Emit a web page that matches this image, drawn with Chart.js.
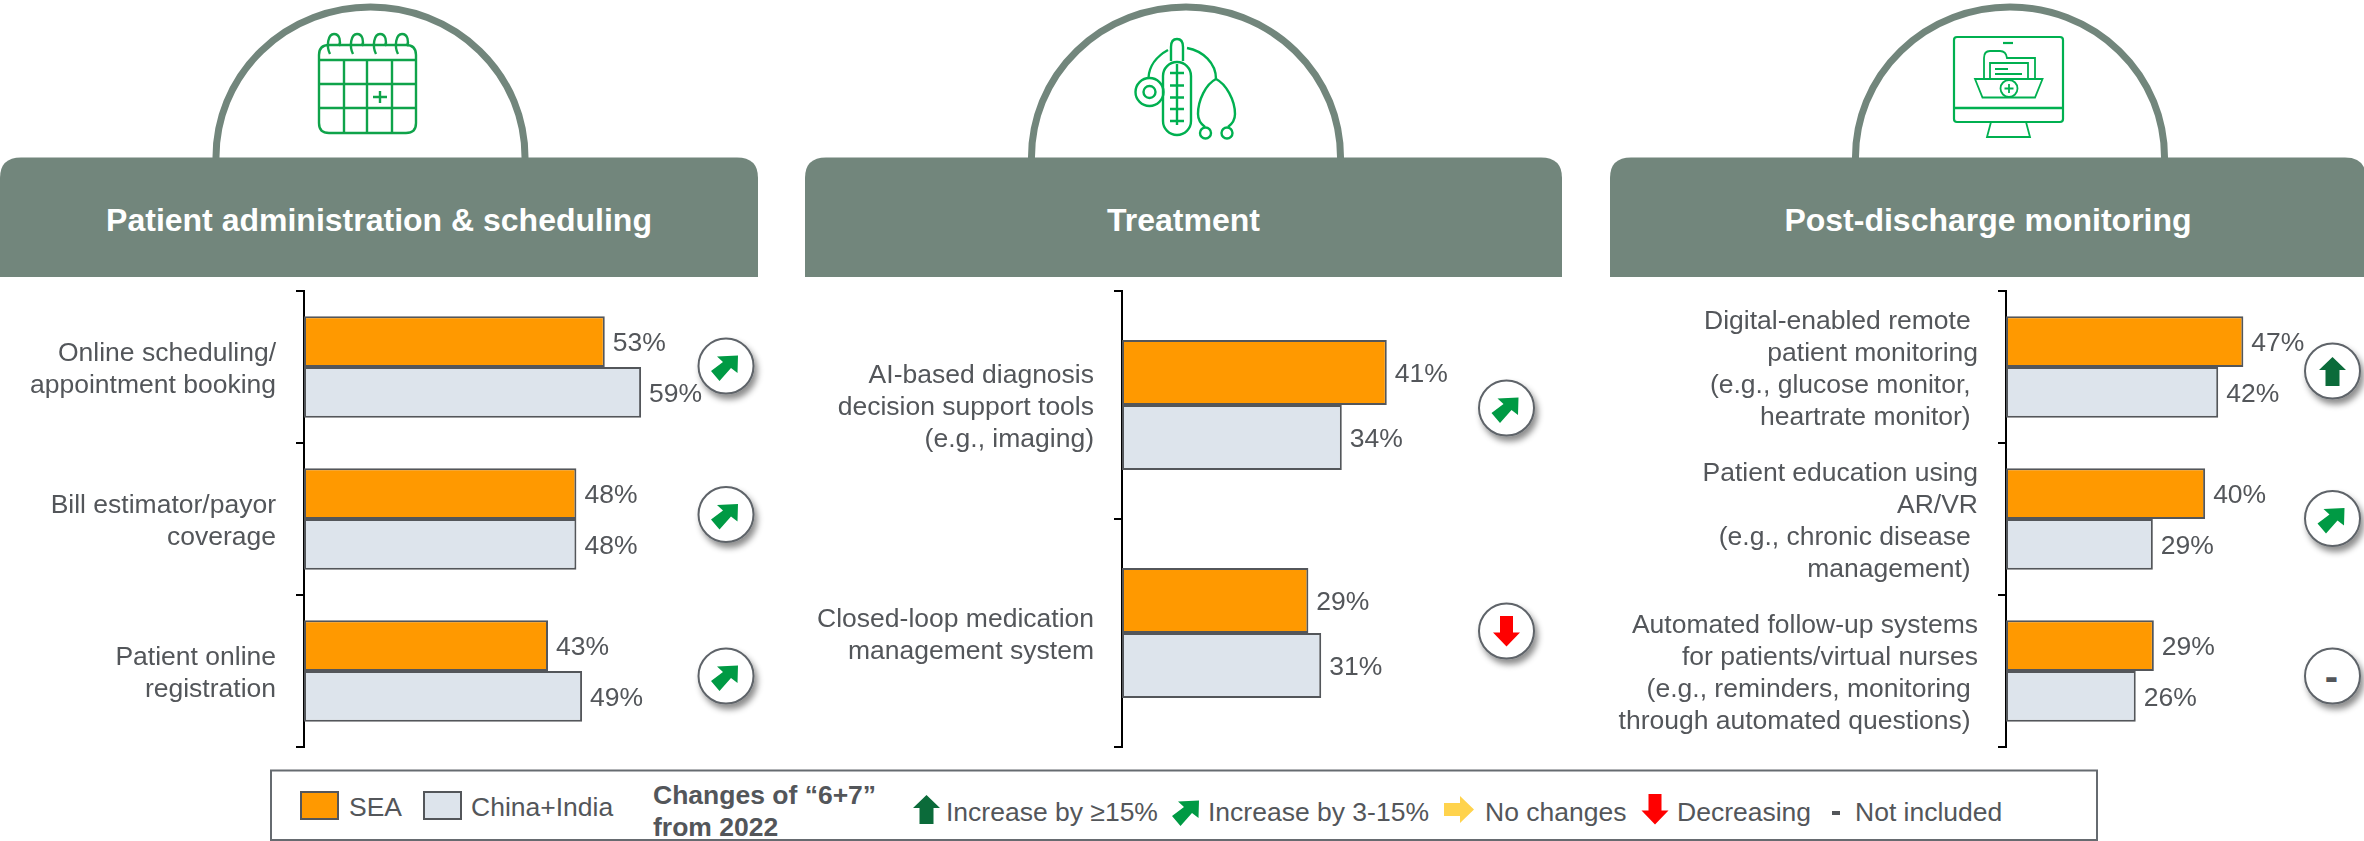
<!DOCTYPE html>
<html><head><meta charset="utf-8">
<script src="https://cdn.jsdelivr.net/npm/chart.js@4"></script>
<style>
html,body{margin:0;padding:0;background:#fff;width:2364px;height:841px;overflow:hidden}
#wrap{position:relative;width:2364px;height:841px;font-family:"Liberation Sans",Arial,sans-serif}
svg{position:absolute;left:0;top:0}
canvas{position:absolute}
text{font-family:"Liberation Sans",Arial,sans-serif}
</style></head><body>
<div id="wrap">
<svg id="deco" width="2364" height="841" viewBox="0 0 2364 841" xmlns="http://www.w3.org/2000/svg"></svg>
<canvas id="c1"></canvas><canvas id="c2"></canvas><canvas id="c3"></canvas>
</div>
<script>
// ---- data (bar lengths estimated to a tenth; labels show whole percents) ----
const seriesNames = ["SEA", "China+India"];
const panelTitles = ["Patient administration & scheduling", "Treatment", "Post-discharge monitoring"];

const categories1 = [["Online scheduling/","appointment booking"],["Bill estimator/payor","coverage"],["Patient online","registration"]];
const sea1 = [53, 48, 43];
const chinaIndia1 = [59.4, 48, 49];
const trend1 = ["diag", "diag", "diag"];

const categories2 = [["AI-based diagnosis","decision support tools","(e.g., imaging)"],["Closed-loop medication","management system"]];
const sea2 = [41.2, 29];
const chinaIndia2 = [34.2, 31];
const trend2 = ["diag", "down"];

const categories3 = [["Digital-enabled remote ","patient monitoring","(e.g., glucose monitor, ","heartrate monitor) "],["Patient education using","AR/VR","(e.g., chronic disease ","management) "],["Automated follow-up systems","for patients/virtual nurses","(e.g., reminders, monitoring ","through automated questions) "]];
const sea3 = [47.2, 39.6, 29.4];
const chinaIndia3 = [42.2, 29.2, 25.8];
const trend3 = ["up", "diag", "none"];

const legendTrendLabels = ["Increase by ≥15%", "Increase by 3-15%", "No changes", "Decreasing", "Not included"];
const legendHeading = ["Changes of “6+7”", "from 2022"];

// ---- style ----
const ORANGE="#FF9900", GREYBAR="#DDE4EC", EDGE="#53565A", TEXT="#53565A", HEAD="#72867C", FS=26.5;

const labelPlugin={id:"valueLabels",afterDatasetsDraw(chart){
  const c=chart.ctx;c.save();c.font=FS+'px "Liberation Sans"';c.fillStyle=TEXT;c.textAlign="left";c.textBaseline="middle";
  chart.data.datasets.forEach((d,i)=>{chart.getDatasetMeta(i).data.forEach((el,j)=>{
    c.fillText(Math.round(d.data[j])+"%",el.x+8,el.y+2);
  });});
  c.restore();
}};

function makeChart(id,left,axisX,xMax,pxPerPct,categories,sea,china,catPct){
  const plotW=Math.round(xMax*pxPerPct);
  const W=axisX-left+plotW, top=281, H=476;
  const cv=document.getElementById(id);
  cv.style.left=left+"px";cv.style.top=top+"px";
  cv.width=W;cv.height=H;
  new Chart(cv,{type:"bar",plugins:[labelPlugin],
    data:{labels:categories,datasets:[
      {label:seriesNames[0],data:sea,backgroundColor:ORANGE,borderColor:EDGE,borderWidth:2,borderSkipped:false},
      {label:seriesNames[1],data:china,backgroundColor:GREYBAR,borderColor:EDGE,borderWidth:2,borderSkipped:false}]},
    options:{indexAxis:"y",responsive:false,animation:false,devicePixelRatio:1,
      layout:{padding:{top:10,bottom:10,left:0,right:0}},
      datasets:{bar:{barPercentage:1,categoryPercentage:catPct}},
      plugins:{legend:{display:false},title:{display:false},tooltip:{enabled:false}},
      scales:{
        x:{display:false,min:0,max:xMax},
        y:{offset:true,
          afterFit(s){s.width=axisX-left;s.paddingTop=0;s.paddingBottom=0;},
          border:{display:true,color:"#000",width:2},
          grid:{offset:true,drawOnChartArea:false,drawTicks:true,tickLength:8,color:"#000",lineWidth:2},
          ticks:{autoSkip:false,padding:20,labelOffset:3,color:TEXT,font:{family:'"Liberation Sans"',size:FS,lineHeight:32/FS}}
        }}}});
}
makeChart("c1",0,304,80,5.67,categories1,sea1,chinaIndia1,0.667);
makeChart("c2",800,1122,68,6.43,categories2,sea2,chinaIndia2,0.57);
makeChart("c3",1610,2006,70,5.03,categories3,sea3,chinaIndia3,0.667);

// ---- decoration: headers, arches, icons, badges, legend ----
const GREEN_D="#0B6B3A",GREEN="#009A44",RED="#FF0000",YEL="#FFD34D";
const P={
 diag:{pts:"-9,-9.5 12,-10.5 11.5,7 5,2 -6.5,15 -15,5 -3,-4",fill:GREEN},
 up:{pts:"0,-14 13.5,-1 7,-1 7,15 -7,15 -7,-1 -13.5,-1",fill:GREEN_D},
 down:{pts:"0,15.5 13.5,1.5 6.5,1.5 6.5,-15 -6.5,-15 -6.5,1.5 -13.5,1.5",fill:RED},
 right:{pts:"15,0 1,-13.5 1,-6.5 -15,-6.5 -15,6.5 1,6.5 1,13.5",fill:YEL}
};
let s=`<defs><filter id="sh" x="-40%" y="-40%" width="190%" height="190%"><feDropShadow dx="3" dy="5" stdDeviation="3" flood-color="#000" flood-opacity="0.45"/></filter></defs>`;
function head(x0,x1,cx,r,title){
  s+=`<path d="M${cx-r+3.5} 160 L${cx-r+3.5} 157 A${r-3.5} ${150} 0 0 1 ${cx+r-3.5} 157 L${cx+r-3.5} 160" fill="#fff" stroke="${HEAD}" stroke-width="7"/>`;
  s+=`<path d="M${x0} 277 L${x0} 178 Q${x0} 157.5 ${x0+21} 157.5 L${x1-21} 157.5 Q${x1} 157.5 ${x1} 178 L${x1} 277 Z" fill="${HEAD}"/>`;
  s+=`<text x="${(x0+x1)/2}" y="231" text-anchor="middle" font-size="32" font-weight="700" fill="#fff">${title.replace("&","&amp;")}</text>`;
}
head(0,758,370.5,158,panelTitles[0]);
head(805,1562,1186,158,panelTitles[1]);
head(1610,2366,2010,158,panelTitles[2]);

// calendar icon
const G1="#0FA34A";
s+=`<g fill="none" stroke="${G1}" stroke-width="2.4">`+
`<path d="M319 60 L319 55 Q319 45 329 45 L406 45 Q416 45 416 55 L416 123 Q416 133 406 133 L329 133 Q319 133 319 123 Z"/>`+
`<path d="M319 60H416M319 84H416M319 108H416M344 60V133M367 60V133M392 60V133"/>`+
`<path d="M380 91V103M373 97H387"/>`;
[334,357,380,402].forEach(x=>{s+=`<path d="M${x-4} 54 C${x-8} 46 ${x-6} 34 ${x} 34 C${x+6} 34 ${x+7} 42 ${x+5} 46"/>`;});
s+=`</g>`;
// stethoscope + thermometer icon
const G2="#00B050";
s+=`<g fill="none" stroke="${G2}" stroke-width="2.4">`+
`<rect x="1163" y="62" width="28" height="73" rx="14"/>`+
`<path d="M1171 61V47Q1171 39 1177 39Q1183 39 1183 47V61"/>`+
`<path d="M1177 64V125M1170 73H1184M1170 85.500H1184M1170 97.500H1184M1170 109H1184M1170 121H1184"/>`+
`<path d="M1168 50C1157 56 1149 66 1148.500 78"/>`+
`<path d="M1187 48C1203 51 1216 63 1216 79"/>`+
`<circle cx="1149.500" cy="92" r="14"/><circle cx="1149.500" cy="92" r="6"/>`+
`<path d="M1216 79C1206 84 1198 100 1198 114C1198 120 1201 124 1205 127"/>`+
`<path d="M1216 79C1226 84 1235 100 1235 114C1235 120 1232 124 1228 127"/>`+
`<circle cx="1205.500" cy="133" r="5.500"/><circle cx="1227" cy="133" r="5.500"/></g>`;
// monitor + folder icon
s+=`<g fill="none" stroke="${G2}" stroke-width="1.8">`+
`<rect x="1954" y="37" width="109" height="85" rx="3" stroke-width="2.2"/>`+
`<path d="M1954 108H2063" stroke-width="2.6"/><path d="M2003 43H2013" stroke-width="2.2"/>`+
`<path d="M1991 122L1987 137H2030L2026 122"/>`+
`<path d="M1984 79V58Q1984 51 1990 51H2000Q2006 51 2007 58H2035V79"/>`+
`<path d="M1990 79V63H2028V79M1995 69H2008M1995 74H2022"/>`+
`<path d="M1975 79H2042.500L2035 97.500H1982.500Z"/>`+
`<circle cx="2009" cy="88.500" r="8.500"/><path d="M2009 84V93M2004.500 88.500H2013.500"/></g>`;

// badges
function badge(cx,cy,kind){
  s+=`<circle cx="${cx}" cy="${cy}" r="27.500" fill="#fff" stroke="#5E6469" stroke-width="2" filter="url(#sh)"/>`;
  if(kind==="none"){s+=`<text x="${cx-1}" y="${cy+14}" text-anchor="middle" font-size="40" font-weight="700" fill="${TEXT}">-</text>`;}
  else s+=`<polygon transform="translate(${cx},${cy})" points="${P[kind].pts}" fill="${P[kind].fill}"/>`;
}
[[726,[366,514.5,676],trend1],[1506.5,[408,631],trend2],[2332.5,[371,518.5,676],trend3]].forEach(([x,ys,tr])=>ys.forEach((y,i)=>badge(x,y,tr[i])));

// legend
s+=`<rect x="271" y="770.500" width="1826" height="69.500" fill="#fff" stroke="#666B70" stroke-width="2"/>`;
s+=`<rect x="301" y="792" width="37" height="27" fill="${ORANGE}" stroke="${EDGE}" stroke-width="2"/>`;
s+=`<rect x="424" y="792" width="37" height="27" fill="${GREYBAR}" stroke="${EDGE}" stroke-width="2"/>`;
function t(x,y,str,extra=""){s+=`<text x="${x}" y="${y}" font-size="${FS}" fill="${TEXT}" ${extra}>${str}</text>`;}
t(349,816,seriesNames[0]);t(471,816,seriesNames[1]);
t(653,804,legendHeading[0],'font-weight="700"');t(653,836,legendHeading[1],'font-weight="700"');
function arrow(cx,cy,kind){s+=`<polygon transform="translate(${cx},${cy})" points="${P[kind].pts}" fill="${P[kind].fill}"/>`;}
arrow(926.5,809,"up");t(946,821,legendTrendLabels[0]);
arrow(1187,811,"diag");t(1208,821,legendTrendLabels[1]);
arrow(1459,809.5,"right");t(1485,821,legendTrendLabels[2]);
arrow(1655,809,"down");t(1677,821,legendTrendLabels[3]);
s+=`<rect x="1832" y="811" width="8" height="4" fill="${TEXT}"/>`;t(1855,821,legendTrendLabels[4]);
document.getElementById("deco").innerHTML=s;
</script>
</body></html>
